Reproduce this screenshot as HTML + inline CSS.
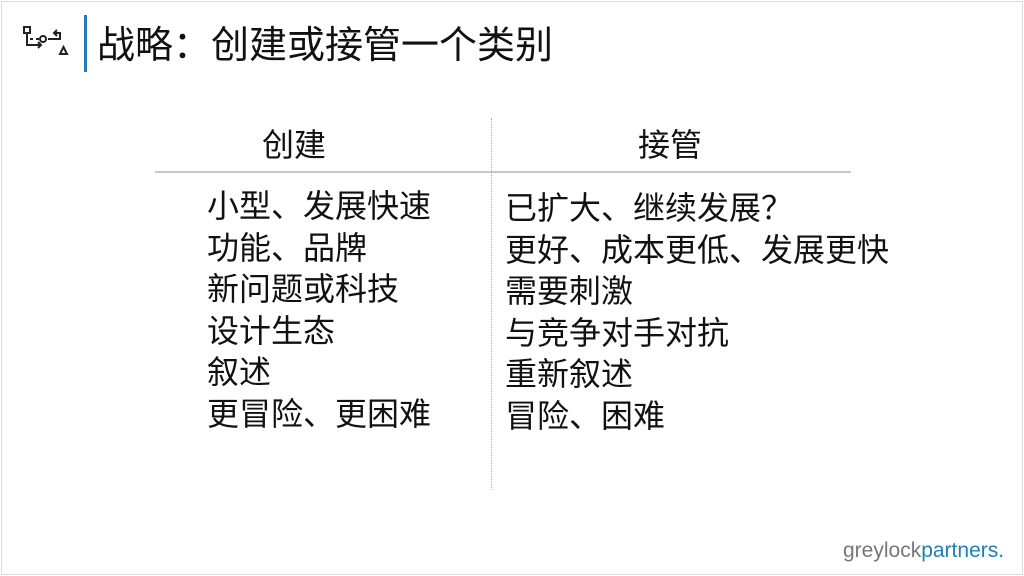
<!DOCTYPE html>
<html><head><meta charset="utf-8"><style>
body{margin:0;width:1024px;height:576px;background:#fff;position:relative;overflow:hidden;font-family:"Liberation Sans","Noto Sans CJK SC",sans-serif;color:#111}
.frame{position:absolute;left:1px;top:1px;width:1020px;height:572px;border:1px solid #ddd}
.t{position:absolute;white-space:nowrap;line-height:1}
.list{position:absolute;font-size:32px;line-height:41.6px;white-space:nowrap}
</style></head><body>
<div class="frame"></div>
<svg style="position:absolute;left:20px;top:24px" width="50" height="36" viewBox="0 0 50 36" fill="none" stroke="#222" stroke-width="2">
<rect x="4" y="3" width="6" height="6"/>
<path d="M7 10v11h14M18 18l3 3-3 3"/>
<circle cx="23" cy="15" r="3"/>
<path d="M10 15h3M16 15h3M28 15h12v-6h-5M37 6l-3 3 3 3"/>
<path d="M40 30l3.5-7 3.5 7z"/>
</svg>
<div style="position:absolute;left:84px;top:15px;width:3px;height:57px;background:#2a78b8"></div>
<div class="t" style="left:97px;top:23px;font-size:38px">战略<span style="font-family:'Noto Sans CJK SC',sans-serif">：</span>创建或接管一个类别</div>
<div class="t" style="left:262px;top:129px;font-size:32px">创建</div>
<div class="t" style="left:638px;top:129px;font-size:32px">接管</div>
<div style="position:absolute;left:155px;top:171px;width:696px;height:2px;background:#c8c8c8"></div>
<div style="position:absolute;left:491px;top:118px;height:372px;border-left:1px dotted #aaa"></div>
<div class="list" style="left:207px;top:186px">小型、发展快速<br>功能、品牌<br>新问题或科技<br>设计生态<br>叙述<br>更冒险、更困难</div>
<div class="list" style="left:505px;top:186px">已扩大、继续发展<span style="font-family:'Noto Sans CJK SC',sans-serif">？</span><br>更好、成本更低、发展更快<br>需要刺激<br>与竞争对手对抗<br>重新叙述<br>冒险、困难</div>
<div class="t" style="left:843px;top:540px;font-size:21px;color:#777">greylock<span style="color:#1f7fb0">partners.</span></div>
</body></html>
